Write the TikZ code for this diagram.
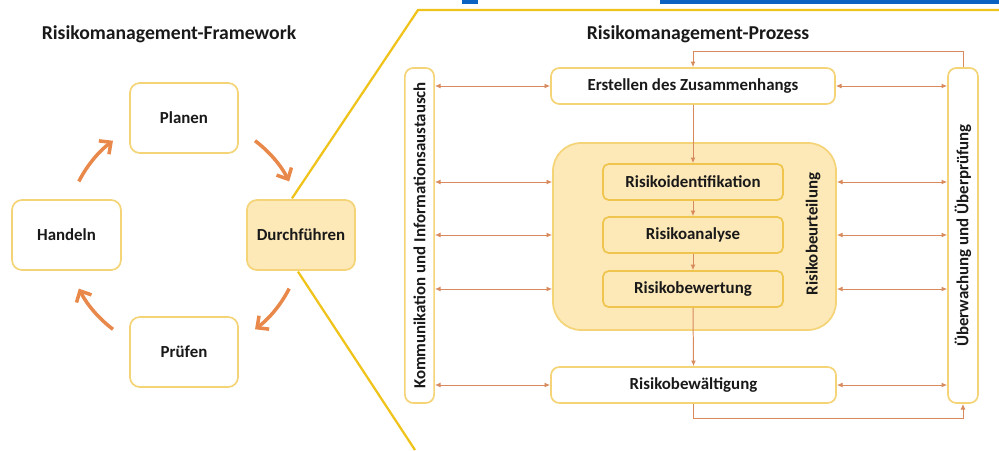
\documentclass[tikz,border=0pt]{standalone}
\usepackage{fontspec}
\setmainfont{Carlito}
\usetikzlibrary{calc,arrows.meta}

\definecolor{boxline}{HTML}{F4D477}
\definecolor{innerline}{HTML}{EFC54E}
\definecolor{hifill}{HTML}{FDE8B7}
\definecolor{cycorange}{HTML}{E8894B}
\definecolor{flowline}{HTML}{D88A5C}
\definecolor{zoomgold}{HTML}{F0C31A}
\definecolor{linkblue}{HTML}{0B62C0}

\begin{document}
\begin{tikzpicture}[x=0.025cm, y=0.025cm,
  font=\bfseries\fontsize{12}{14}\selectfont, text=black!90,
  box/.style={draw=boxline, line width=1.2pt, rounded corners=6pt, fill=white, inner sep=0pt},
  inner/.style={draw=innerline, line width=1.2pt, rounded corners=4pt, fill=hifill, inner sep=0pt,
    minimum width=4.5cm, minimum height=0.9cm},
  cycarrow/.style={draw=cycorange, line width=2.5pt, -{Straight Barb[length=2.2mm,width=4.2mm]}},
  flow/.style={draw=flowline, line width=0.7pt, -{Latex[length=4pt,width=3.5pt]}},
  flowboth/.style={draw=flowline, line width=0.7pt, {Latex[length=4pt,width=3.5pt]}-{Latex[length=4pt,width=3.5pt]}},
  title/.style={font=\bfseries\fontsize{14}{16}\selectfont}]

\useasboundingbox (0,0) rectangle (999,450);

% Parameters
\pgfmathsetmacro{\rcyc}{2.95}
\coordinate (cyc) at (184,215);

% Link remnants along the top edge
\fill[linkblue] (462,446) rectangle (478,450);
\fill[linkblue] (660,446.5) rectangle (999,450);

% Left: framework cycle
\node[title] (fwtitle) at (169,416) {Risikomanagement-Framework};
\node[box, rounded corners=7pt, minimum width=2.7cm, minimum height=1.75cm] (planen) at (184,332) {Planen};
\node[box, rounded corners=7pt, minimum width=2.72cm, minimum height=1.75cm] (handeln) at (66.5,215) {Handeln};
\node[box, rounded corners=7pt, minimum width=2.7cm, minimum height=1.75cm] (pruefen) at (184,98) {Prüfen};
\node[box, rounded corners=7pt, fill=hifill, minimum width=2.7cm, minimum height=1.75cm] (durch) at (301,215) {Durchführen};

% Zoom lines from Durchfuehren to the process panel
\coordinate (ztop) at (418,440);
\coordinate (zbot) at (415,0);
\draw[zoomgold, line width=1.6pt] ($(durch.north)+(-9,0.8)$) -- (ztop) -- (999,440);
\draw[zoomgold, line width=1.6pt] ($(durch.south)+(-3,-0.8)$) -- (zbot);

% Cycle arrows
\draw[cycarrow] ($(cyc)+(153:\rcyc cm)$) arc[start angle=153, end angle=127, radius=\rcyc cm];
\draw[cycarrow] ($(cyc)+(53:\rcyc cm)$) arc[start angle=53, end angle=27, radius=\rcyc cm];
\draw[cycarrow] ($(cyc)+(-27:\rcyc cm)$) arc[start angle=-27, end angle=-53, radius=\rcyc cm];
\draw[cycarrow] ($(cyc)+(-127:\rcyc cm)$) arc[start angle=-127, end angle=-153, radius=\rcyc cm];

% Right: process
\node[title] (prtitle) at (698,416) {Risikomanagement-Prozess};
\node[box, rotate=90, minimum width=8.375cm, minimum height=0.73cm] (komm) at (419.5,214.5)
  {Kommunikation und Informationsaustausch};
\node[box, rotate=90, minimum width=8.375cm, minimum height=0.75cm] (ueber) at (963,214.5)
  {Überwachung und Überprüfung};
\node[box, minimum width=7.1cm, minimum height=0.9cm] (erst) at (693,364) {Erstellen des Zusammenhangs};
\node[box, fill=hifill, rounded corners=20pt, minimum width=7.075cm, minimum height=4.675cm] (beurt) at (694.5,213.5) {};
\node[rotate=90] (beurtlabel) at (813,216) {Risikobeurteilung};
\node[inner] (ident) at (693,268) {Risikoidentifikation};
\node[inner] (analyse) at (693,215) {Risikoanalyse};
\node[inner] (bewert) at (693,161) {Risikobewertung};
\node[box, minimum width=7.125cm, minimum height=0.9cm] (bewael) at (693.5,65) {Risikobewältigung};

% Vertical flow
\draw[flow] (erst.south) -- (ident.north);
\draw[flow] (ident.south) -- (analyse.north);
\draw[flow] (analyse.south) -- (bewert.north);
\draw[flow] (bewert.south) -- (bewael.north);

% Feedback loops via monitoring
\draw[flow] (ueber.east) -- ++(0,16) -| (erst.north);
\draw[flow] (bewael.south) -- ++(0,-15) -| (ueber.west);

% Exchange arrows on both sides
\draw[flowboth] (komm.south |- erst) -- (erst.west);
\draw[flowboth] (erst.east) -- (ueber.north |- erst);
\foreach \n in {ident, analyse, bewert} {
  \draw[flowboth] (komm.south |- \n) -- (beurt.west |- \n);
  \draw[flowboth] (beurt.east |- \n) -- (ueber.north |- \n);
}
\draw[flowboth] (komm.south |- bewael) -- (bewael.west);
\draw[flowboth] (bewael.east) -- (ueber.north |- bewael);

\end{tikzpicture}
\end{document}
